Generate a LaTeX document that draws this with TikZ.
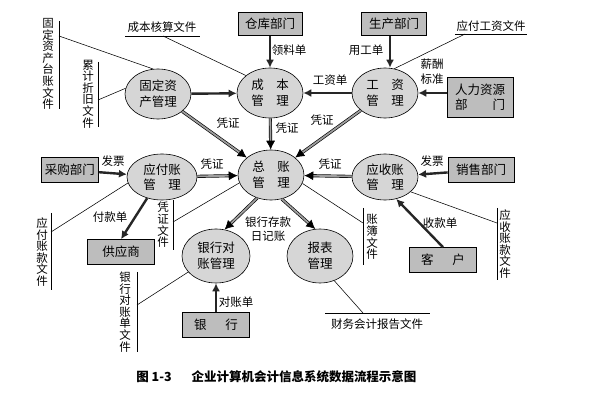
\documentclass[tikz,border=0pt]{standalone}
\usepackage{fontspec}
\setmainfont{Noto Sans CJK SC}
\usetikzlibrary{shapes.geometric,arrows.meta,calc}
\definecolor{ellfill}{gray}{0.84}
\definecolor{boxfill}{gray}{0.74}
\definecolor{dblfill}{gray}{0.62}
\begin{document}
\begin{tikzpicture}[x=1pt,y=-1pt,
  ell/.style={ellipse,draw,line width=0.6pt,fill=ellfill,inner sep=0pt,minimum width=66pt,minimum height=50pt,align=center,font=\fontsize{12.5}{15.5}\selectfont},
  box/.style={draw,line width=0.6pt,fill=boxfill,inner sep=0pt,minimum width=64pt,minimum height=24pt,align=center,font=\fontsize{12.5}{15}\selectfont},
  lbl/.style={font=\fontsize{11.5}{14}\selectfont,inner sep=1pt,align=center},
  vlbl/.style={font=\fontsize{11.5}{11.6}\selectfont,inner sep=0pt,align=center},
  thk/.style={line width=2.4pt,draw=black!85,-{Latex[length=8pt,width=8pt]}},
  dbla/.style={double=dblfill,double distance=1.8pt,line width=0.65pt,-{Latex[length=9pt,width=9pt]}},
  thinl/.style={line width=0.55pt},
  captext/.style={font=\fontsize{12.5}{13}\selectfont\bfseries,inner sep=0pt}
]
\useasboundingbox[fill=white] (0,0) rectangle (598,401);

% ellipses
\node[ell] (chengben) at (270,93) {成\hspace{1em}本\\管\hspace{1em}理};
\node[ell] (gongzi) at (385,93) {工\hspace{1em}资\\管\hspace{1em}理};
\node[ell] (guding) at (158,94) {固定资\\产管理};
\node[ell] (zongzhang) at (271,175) {总\hspace{1em}账\\管\hspace{1em}理};
\node[ell,minimum width=70pt,minimum height=46pt] (yingfu) at (162,177) {应付账\\管\hspace{1em}理};
\node[ell,minimum width=66pt,minimum height=46pt] (yingshou) at (385,177) {应收账\\管\hspace{1em}理};
\node[ell,minimum width=68pt,minimum height=54pt] (yinhangdz) at (216,256) {银行对\\账管理};
\node[ell,minimum width=66pt,minimum height=54pt] (baobiao) at (320,256) {报表\\管理};

% boxes
\node[box,minimum height=23pt] (cangku) at (270,24) {仓库部门};
\node[box,minimum width=65pt,minimum height=23pt] (shengchan) at (394,24) {生产部门};
\node[box,minimum width=66pt,minimum height=40pt] (renli) at (480,97) {人力资源\\部\hspace{2em}门};
\node[box,minimum width=57pt,minimum height=25pt] (caigou) at (70,170) {采购部门};
\node[box,minimum width=66pt,minimum height=25pt] (xiaoshou) at (481,170) {销售部门};
\node[box,minimum width=67pt,minimum height=25pt] (gongying) at (121,252) {供应商};
\node[box,minimum width=67pt,minimum height=25pt] (kehu) at (443,260) {客\hspace{1.5em}户};
\node[box,minimum width=67pt,minimum height=25pt] (yinhang) at (216,325) {银\hspace{1.5em}行};

% thick arrows
\draw[thk] (cangku) -- (chengben);
\coordinate (sc) at ($(shengchan.south)+(-4,0)$);
\draw[thk] (sc) -- (sc |- gongzi.north);
\draw[thk] (renli.west |- gongzi) -- (gongzi);
\draw[thk] (gongzi) -- (chengben);
\draw[thk] (guding) -- (chengben);
\draw[thk] (caigou) -- (yingfu);
\draw[thk] (xiaoshou) -- (yingshou);
\draw[thk] (yingfu.235) -- (gongying.north);
\draw[thk] (kehu.north) -- (yingshou.297);
\draw[thk] (yinhang) -- (yinhangdz);

% double arrows
\draw[dbla] (guding) -- (zongzhang);
\draw[dbla] (chengben) -- (zongzhang);
\draw[dbla] (gongzi) -- (zongzhang);
\draw[dbla] (yingfu) -- (zongzhang);
\draw[dbla] (yingshou) -- (zongzhang);
\draw[dbla] (zongzhang.239) -- (yinhangdz.72);
\draw[dbla] (zongzhang.294) -- (baobiao.100);

% arrow labels
\node[lbl] (l1) at (289,50) {领料单};
\node[lbl] (l2) at (366,50) {用工单};
\node[lbl,font=\fontsize{11.5}{15}\selectfont] (l3) at (432,72) {薪酬\\标准};
\node[lbl] (l4) at (330,80) {工资单};
\node[lbl] (l5) at (228,123) {凭证};
\node[lbl] (l6) at (287,128) {凭证};
\node[lbl] (l7) at (322,120) {凭证};
\node[lbl] (l8) at (212,164) {凭证};
\node[lbl] (l9) at (330,164) {凭证};
\node[lbl,font=\fontsize{11.5}{14}\selectfont] (l10) at (268,229) {银行存款\\日记账};
\node[lbl] (l11) at (113,161) {发票};
\node[lbl] (l12) at (432,161) {发票};
\node[lbl] (l13) at (110,217) {付款单};
\node[lbl] (l14) at (440,223) {收款单};
\node[lbl] (l15) at (236,302) {对账单};

% file labels (horizontal)
\node[lbl] (cbhs) at (162,27) {成本核算文件};
\draw[thinl] (125,36) -- (200,36);
\coordinate (cbhsP) at (163,36);
\draw[thinl] (cbhsP) -- (chengben.144);

\node[lbl] (yfgz) at (491,26) {应付工资文件};
\draw[thinl] (455,34) -- (527,34);
\coordinate (yfgzP) at (465,34);
\draw[thinl] (yfgzP) -- (gongzi.69);

\node[lbl] (cwkj) at (377,324) {财务会计报告文件};
\draw[thinl] (325,313) -- (430,313);
\coordinate (cwkjP) at (363,313);
\draw[thinl] (cwkjP) -- (baobiao.300);

% file labels (vertical)
\node[vlbl] (gdtz) at (48,64) {固\\定\\资\\产\\台\\账\\文\\件};
\draw[thinl] (59,21) -- (59,109);
\coordinate (gdtzP) at (59,36);
\draw[thinl] (gdtzP) -- (guding.101);

\node[vlbl] (ljzj) at (88,94) {累\\计\\折\\旧\\文\\件};
\draw[thinl] (98,62) -- (98,127);
\coordinate (ljzjP) at (98,100);
\draw[thinl] (ljzjP) -- (guding.170);

\node[vlbl] (yfzk) at (42,252) {应\\付\\账\\款\\文\\件};
\draw[thinl] (51,213) -- (51,290);
\coordinate (yfzkP) at (51,232);
\draw[thinl] (yfzkP) -- (yingfu.190);

\node[vlbl] (pzwj) at (163,225) {凭\\证\\文\\件};
\draw[thinl] (173,200) -- (173,250);
\coordinate (pzwjP) at (173,222);
\draw[thinl] (pzwjP) -- (zongzhang.194);

\node[vlbl] (zbwj) at (372,237) {账\\簿\\文\\件};
\draw[thinl] (363,208) -- (363,265);
\coordinate (zbwjP) at (363,223);
\draw[thinl] (zbwjP) -- (zongzhang.345);

\node[vlbl] (yszk) at (505,244) {应\\收\\账\\款\\文\\件};
\draw[thinl] (497,208) -- (497,280);
\coordinate (yszkP) at (497,223);
\draw[thinl] (yszkP) -- (yingshou.330);

\node[vlbl] (yhdzd) at (125,312) {银\\行\\对\\账\\单\\文\\件};
\draw[thinl] (137,272) -- (137,352);
\coordinate (yhdzdP) at (137,305);
\draw[thinl] (yhdzdP) -- (yinhangdz.210);

% caption
\node[captext] (cap1) at (154,377) {图 1-3};
\node[captext] (cap2) at (304,377) {企业计算机会计信息系统数据流程示意图};
\end{tikzpicture}
\end{document}
